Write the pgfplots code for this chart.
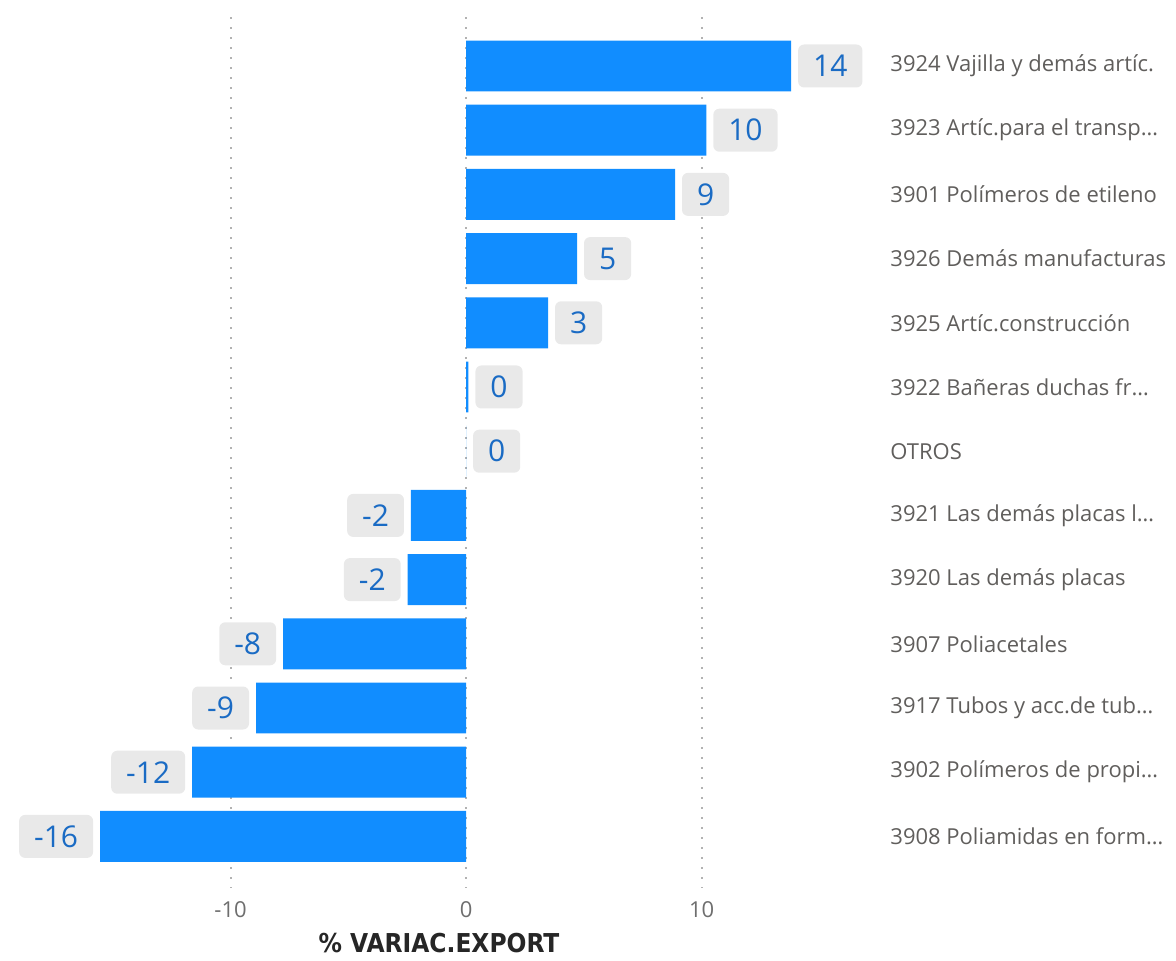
\documentclass[border=0pt]{standalone}
\usepackage{fontspec}
\setmainfont{Open Sans}
\newfontfamily\dinfont{DejaVu Sans Condensed}
\usepackage{pgfplots}
\pgfplotsset{compat=1.18}
\definecolor{barblue}{HTML}{118DFF}
\definecolor{lblblue}{HTML}{1A6BC4}
\definecolor{boxgray}{HTML}{E9E9E9}
\definecolor{cattext}{HTML}{605E5C}
\definecolor{ticktext}{HTML}{6E6E6E}
\begin{document}
\begin{tikzpicture}
\begin{axis}[
  at={(0,0)}, anchor=south west,
  scale only axis,
  width=439pt, height=435.5pt,
  xbar,
  bar width=0.794,
  y dir=reverse,
  xmin=-19.79, xmax=17.49,
  ymin=-0.763, ymax=12.804,
  axis line style={draw=none},
  tick style={draw=none},
  major tick length=0pt,
  xtick={-10,0,10},
  xmajorgrids,
  grid style={draw=black!30, line width=1pt, dash pattern=on 1pt off 4pt},
  ytick={0,1,2,3,4,5,6,7,8,9,10,11,12},
  yticklabel pos=right,
  yticklabels={3924 Vajilla y demás artíc.,3923 Artíc.para el transp…,3901 Polímeros de etileno,3926 Demás manufacturas,3925 Artíc.construcción,3922 Bañeras duchas fr…,OTROS,3921 Las demás placas l…,3920 Las demás placas,3907 Poliacetales,3917 Tubos y acc.de tub…,3902 Polímeros de propi…,3908 Poliamidas en form…},
  yticklabel style={anchor=west, inner sep=0pt, xshift=6pt, font=\fontsize{11}{13}\selectfont, text=cattext},
  xticklabel style={font=\fontsize{11}{13}\selectfont, text=ticktext, yshift=-3pt},
  /pgf/number format/assume math mode=true,
  xlabel={\% VARIAC.EXPORT},
  xlabel style={font=\dinfont\bfseries\fontsize{13}{15}\selectfont, text=black!85, yshift=-1pt},
  clip=false,
  nodes near coords,
  nodes near coords align={horizontal},
  every node near coord/.append style={
    /pgf/number format/fixed, /pgf/number format/precision=0,
    /pgf/number format/assume math mode=true,
    font=\fontsize{15}{17}\selectfont, text=lblblue,
    fill=boxgray, rounded corners=3pt, inner xsep=7.5pt, inner ysep=0pt,
    minimum height=21.5pt, outer xsep=3.5pt},
]
\addplot[fill=barblue, draw=none] coordinates {
  (13.8,0) (10.2,1) (8.87,2) (4.71,3) (3.48,4) (0.1,5) (0,6)
  (-2.34,7) (-2.48,8) (-7.77,9) (-8.92,10) (-11.63,11) (-15.54,12)
};
\end{axis}
\pgfresetboundingbox
\useasboundingbox (0,-36pt) rectangle (588pt,444pt);
\end{tikzpicture}
\end{document}
